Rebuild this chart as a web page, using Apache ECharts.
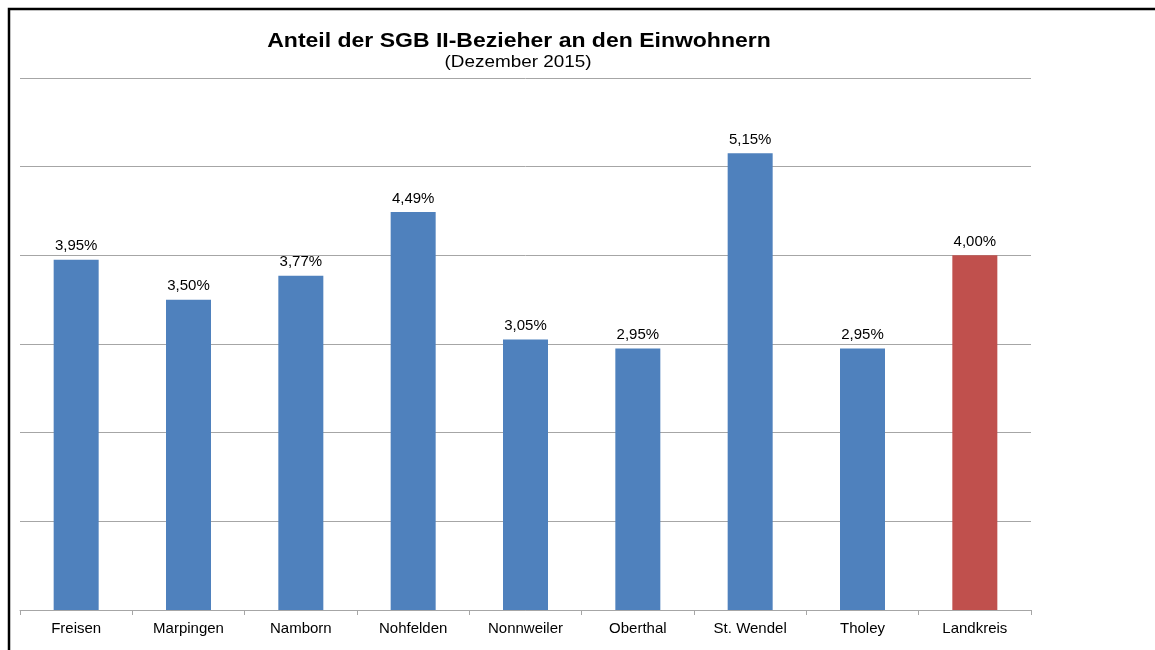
<!DOCTYPE html>
<html>
<head>
<meta charset="utf-8">
<script src="https://cdn.jsdelivr.net/npm/echarts@6/dist/echarts.min.js"></script>
<style>
    html, body { margin: 0; padding: 0; background: #fff; }
    #chart { width: 1155px; height: 650px; }
</style>
</head>
<body>
<div id="chart"></div>
<script>
const categories = ['Freisen', 'Marpingen', 'Namborn', 'Nohfelden', 'Nonnweiler', 'Oberthal', 'St. Wendel', 'Tholey', 'Landkreis'];
const values = [3.95, 3.50, 3.77, 4.49, 3.05, 2.95, 5.15, 2.95, 4.00];
const barColors = ['#4F81BD', '#4F81BD', '#4F81BD', '#4F81BD', '#4F81BD', '#4F81BD', '#4F81BD', '#4F81BD', '#C0504D'];

const myChart = echarts.init(document.getElementById('chart'));

const font = 'Arial, "Liberation Sans", sans-serif';

const option = {
    animation: false,
    textStyle: { fontFamily: font },
    graphic: [
        {
            // outer frame
            type: 'rect',
            shape: { x: 9, y: 9, width: 1200, height: 700 },
            style: { fill: 'none', stroke: '#000', lineWidth: 2.5 }
        },
        {
            type: 'text',
            x: 519, y: 41,
            scaleX: 1.15,
            style: {
                text: 'Anteil der SGB II-Bezieher an den Einwohnern',
                font: 'bold 20px ' + font,
                fill: '#000',
                align: 'center',
                verticalAlign: 'middle'
            }
        },
        {
            type: 'text',
            x: 518, y: 63,
            scaleX: 1.18,
            style: {
                text: '(Dezember 2015)',
                font: '16px ' + font,
                fill: '#000',
                align: 'center',
                verticalAlign: 'middle'
            }
        }
    ],
    grid: { left: 20, right: 124, top: 78, bottom: 40, containLabel: false },
    xAxis: {
        type: 'category',
        data: categories,
        axisLine: { lineStyle: { color: '#a6a6a6', width: 1 } },
        axisTick: { show: true, length: 5, lineStyle: { color: '#a6a6a6' } },
        axisLabel: { color: '#000', fontSize: 15, margin: 11, fontFamily: font, interval: 0 }
    },
    yAxis: {
        type: 'value',
        min: 0,
        max: 6,
        interval: 1,
        axisLine: { show: false },
        axisTick: { show: false },
        axisLabel: { show: false },
        splitLine: { lineStyle: { color: '#a6a6a6', width: 1 } }
    },
    series: [{
        type: 'bar',
        barWidth: 45,
        data: values.map((v, i) => ({ value: v, itemStyle: { color: barColors[i] } })),
        label: {
            show: true,
            position: 'top',
            distance: 6,
            color: '#000',
            fontSize: 15,
            fontFamily: font,
            formatter: p => p.value.toFixed(2).replace('.', ',') + '%'
        }
    }]
};

myChart.setOption(option);
</script>
</body>
</html>
